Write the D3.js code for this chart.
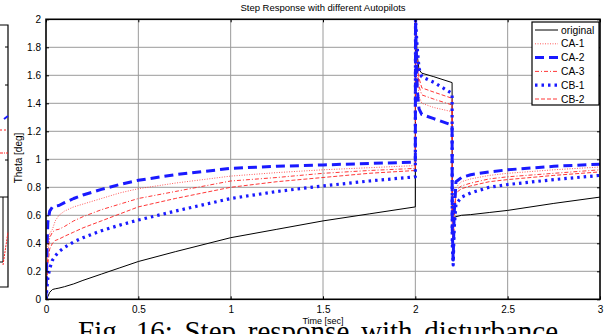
<!DOCTYPE html>
<html>
<head>
<meta charset="utf-8">
<script src="https://cdn.jsdelivr.net/npm/d3@7"></script>
<style>
  body { margin: 0; background: #fff; }
  svg { display: block; }
  text { font-family: "Liberation Sans", Arial, sans-serif; }
</style>
</head>
<body>
<div id="chart"></div>
<script>
// time samples (sec), shared by every series
var time = [0, 0.005, 0.01, 0.02, 0.035, 0.05, 0.07, 0.1, 0.15, 0.2, 0.3, 0.4, 0.5, 0.7, 1.0, 1.25, 1.5, 1.75, 2.0,
  2.001, 2.01, 2.02, 2.035, 2.1, 2.199, 2.2, 2.205, 2.21, 2.22, 2.25, 2.3, 2.4, 2.5, 2.75, 3.0];

var original = [0, 0.005, 0.02, 0.05, 0.07, 0.075, 0.08, 0.09, 0.11, 0.135, 0.18, 0.225, 0.27, 0.34, 0.44, 0.5, 0.56, 0.61, 0.66,
  1.95, 1.75, 1.64, 1.615, 1.59, 1.548, 0.6, 0.58, 0.585, 0.59, 0.6, 0.605, 0.62, 0.635, 0.685, 0.73];
var ca1 = [0, 0.2, 0.38, 0.47, 0.5, 0.56, 0.6, 0.63, 0.66, 0.68, 0.72, 0.76, 0.79, 0.83, 0.88, 0.905, 0.925, 0.94, 0.955,
  1.97, 1.6, 1.45, 1.4, 1.37, 1.34, 0.5, 0.32, 0.6, 0.8, 0.84, 0.86, 0.885, 0.9, 0.925, 0.945];
var ca2 = [0, 0.35, 0.55, 0.63, 0.66, 0.665, 0.67, 0.69, 0.72, 0.745, 0.785, 0.82, 0.85, 0.89, 0.935, 0.95, 0.96, 0.97, 0.98,
  1.98, 1.5, 1.36, 1.32, 1.29, 1.245, 0.5, 0.28, 0.6, 0.84, 0.87, 0.89, 0.91, 0.925, 0.95, 0.965];
var ca3 = [0, 0.18, 0.33, 0.44, 0.48, 0.495, 0.5, 0.52, 0.56, 0.59, 0.64, 0.68, 0.72, 0.77, 0.845, 0.87, 0.9, 0.92, 0.935,
  1.97, 1.68, 1.52, 1.46, 1.43, 1.388, 0.5, 0.34, 0.6, 0.78, 0.81, 0.83, 0.86, 0.875, 0.9, 0.925];
var cb1 = [0, 0.08, 0.15, 0.22, 0.28, 0.31, 0.34, 0.37, 0.41, 0.44, 0.49, 0.53, 0.566, 0.63, 0.72, 0.77, 0.81, 0.845, 0.875,
  2.0, 1.8, 1.65, 1.59, 1.55, 1.47, 0.4, 0.245, 0.5, 0.68, 0.73, 0.76, 0.8, 0.82, 0.855, 0.885];
var cb2 = [0, 0.12, 0.25, 0.36, 0.4, 0.42, 0.43, 0.45, 0.48, 0.51, 0.56, 0.61, 0.66, 0.72, 0.8, 0.84, 0.87, 0.9, 0.92,
  1.98, 1.72, 1.58, 1.51, 1.48, 1.436, 0.5, 0.33, 0.58, 0.76, 0.79, 0.81, 0.84, 0.855, 0.885, 0.91];

var seriesNames = ["original", "CA-1", "CA-2", "CA-3", "CB-1", "CB-2"];
var xTicks = [0, 0.5, 1, 1.5, 2, 2.5, 3];
var yTicks = [0, 0.2, 0.4, 0.6, 0.8, 1, 1.2, 1.4, 1.6, 1.8, 2];

var styles = {
  "original": {color: "#000", width: 1, dash: null},
  "CA-1": {color: "#ff3030", width: 0.8, dash: "1,1.5"},
  "CA-2": {color: "#1a1aff", width: 3, dash: "9,5"},
  "CA-3": {color: "#ff2020", width: 0.9, dash: "4,2,1,2"},
  "CB-1": {color: "#1a1aff", width: 3.2, dash: "2.5,4"},
  "CB-2": {color: "#ff2020", width: 0.9, dash: "4,2"}
};
var values = {"original": original, "CA-1": ca1, "CA-2": ca2, "CA-3": ca3, "CB-1": cb1, "CB-2": cb2};

var W = 607, H = 334;
var margin = {top: 19.3, right: 7, bottom: 34.7, left: 46};
var width = W - margin.left - margin.right,
    height = H - margin.top - margin.bottom;

var svg = d3.select("#chart").append("svg")
  .attr("width", W).attr("height", H);

// fragment of the neighbouring figure on the left edge
var frag = svg.append("g").attr("fill", "none");
frag.append("path").attr("d", "M0,25H8V287H0").attr("stroke", "#000").attr("stroke-width", 1.2);
frag.append("path").attr("d", "M0,197H8M3,197V262H0").attr("stroke", "#000").attr("stroke-width", 1);
[47, 85, 160].forEach(function(y) {
  frag.append("line").attr("x1", 5).attr("x2", 8).attr("y1", y).attr("y2", y).attr("stroke", "#000");
});
frag.append("path").attr("d", "M0,130H8").attr("stroke", "#ff2020").attr("stroke-dasharray", "2,2");
frag.append("path").attr("d", "M0,153H8").attr("stroke", "#ff2020").attr("stroke-dasharray", "3,1,1,1");
frag.append("path").attr("d", "M3,265L8,232").attr("stroke", "#ff2020").attr("stroke-dasharray", "2,1");
frag.append("path").attr("d", "M4,119L8,116").attr("stroke", "#1a1aff").attr("stroke-width", 2);

var g = svg.append("g")
  .attr("transform", "translate(" + margin.left + "," + margin.top + ")");

var x = d3.scaleLinear().domain([0, 3]).range([0, width]);
var y = d3.scaleLinear().domain([0, 2]).range([height, 0]);

// grid
g.append("g").selectAll("line").data(xTicks.slice(1, -1)).enter().append("line")
  .attr("x1", function(d) { return x(d); }).attr("x2", function(d) { return x(d); })
  .attr("y1", 0).attr("y2", height)
  .attr("stroke", "#9a9a9a").attr("stroke-width", 1);
g.append("g").selectAll("line").data(yTicks.slice(1, -1)).enter().append("line")
  .attr("y1", function(d) { return y(d); }).attr("y2", function(d) { return y(d); })
  .attr("x1", 0).attr("x2", width)
  .attr("stroke", "#9a9a9a").attr("stroke-width", 1);

g.append("clipPath").attr("id", "clip").append("rect")
  .attr("x", 0).attr("y", -1).attr("width", width).attr("height", height + 1);

var line = d3.line()
  .x(function(d, i) { return x(time[i]); })
  .y(function(d) { return y(d); });

var drawOrder = ["original", "CB-2", "CA-3", "CA-1", "CB-1", "CA-2"];
g.append("g").attr("clip-path", "url(#clip)")
  .selectAll("path").data(drawOrder).enter().append("path")
  .attr("fill", "none")
  .attr("d", function(d) { return line(values[d]); })
  .attr("stroke", function(d) { return styles[d].color; })
  .attr("stroke-width", function(d) { return styles[d].width; })
  .attr("stroke-dasharray", function(d) { return styles[d].dash; })
  .attr("stroke-linejoin", "round");

// axes (inward ticks, MATLAB style)
var xAxis = g.append("g").attr("transform", "translate(0," + height + ")")
  .call(d3.axisBottom(x).tickValues(xTicks).tickSizeInner(-3).tickSizeOuter(0).tickPadding(7).tickFormat(d3.format("")));
var xTop = g.append("g")
  .call(d3.axisTop(x).tickValues(xTicks).tickSizeInner(-3).tickSizeOuter(0).tickFormat(""));
var yAxis = g.append("g")
  .call(d3.axisLeft(y).tickValues(yTicks).tickSizeInner(-3).tickSizeOuter(0).tickPadding(5).tickFormat(d3.format("")));
var yRight = g.append("g").attr("transform", "translate(" + width + ",0)")
  .call(d3.axisRight(y).tickValues(yTicks).tickSizeInner(-3).tickSizeOuter(0).tickFormat(""));
[xAxis, xTop, yAxis, yRight].forEach(function(a) {
  a.select(".domain").remove();
  a.selectAll("line").attr("stroke", "#000");
  a.selectAll("text").attr("font-size", 10).attr("fill", "#000")
    .style("font-family", "'Liberation Sans', Arial, sans-serif");
});

g.append("rect").attr("x", 0).attr("y", 0).attr("width", width).attr("height", height)
  .attr("fill", "none").attr("stroke", "#000").attr("stroke-width", 1.6);

// labels
svg.append("text").attr("x", 323).attr("y", 11).attr("text-anchor", "middle")
  .attr("font-size", 9.5).text("Step Response with different Autopilots");
svg.append("text").attr("x", 323).attr("y", 324).attr("text-anchor", "middle")
  .attr("font-size", 9).text("Time [sec]");
svg.append("text").attr("transform", "translate(22,158) rotate(-90)").attr("text-anchor", "middle")
  .attr("font-size", 10).text("Theta [deg]");

// legend
var legend = svg.append("g");
legend.append("rect").attr("x", 532).attr("y", 22).attr("width", 67).attr("height", 83)
  .attr("fill", "#fff").attr("stroke", "#000").attr("stroke-width", 1.2);
var items = legend.selectAll("g.item").data(seriesNames).enter().append("g").attr("class", "item")
  .attr("transform", function(d, i) { return "translate(0," + (30 + i * 13.8) + ")"; });
items.append("line").attr("x1", 535).attr("x2", 558).attr("y1", 0).attr("y2", 0)
  .attr("stroke", function(d) { return styles[d].color; })
  .attr("stroke-width", function(d) { return styles[d].width; })
  .attr("stroke-dasharray", function(d) { return styles[d].dash; });
items.append("text").attr("x", 561).attr("y", 3.6).attr("font-size", 10.3).text(function(d) { return d; });

// caption of the paper figure (cut by the page edge)
svg.append("text").attr("x", 78).attr("y", 341)
  .style("font-family", "'Liberation Serif', 'Times New Roman', serif")
  .attr("font-size", 29).attr("word-spacing", 4.5)
  .text("Fig. 16:  Step response with disturbance");
</script>
</body>
</html>
